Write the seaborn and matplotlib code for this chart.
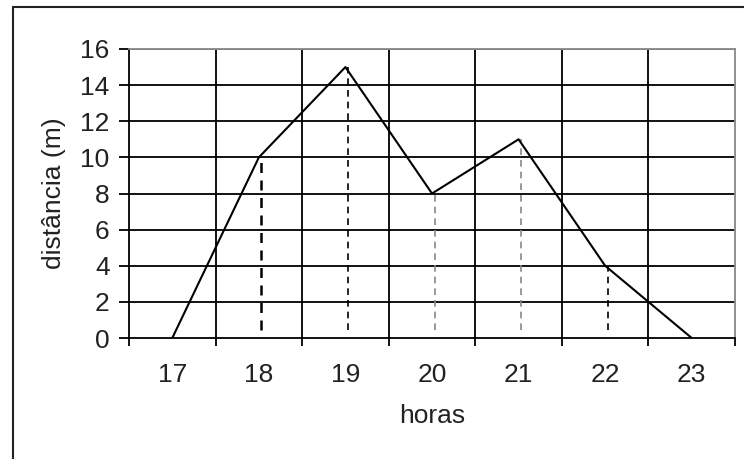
import matplotlib
matplotlib.use("Agg")
import matplotlib.pyplot as plt
import matplotlib.patches as mpatches
import seaborn as sns
import pandas as pd
import numpy as np

horas = [17, 18, 19, 20, 21, 22, 23]
distancia = [0, 10, 15, 8, 11, 4, 0]
y_ticks = [0, 2, 4, 6, 8, 10, 12, 14, 16]
dashed_horas = [18, 19, 20, 21, 22]
dashed_vals = [10, 15, 8, 11, 4]

sns.set_theme(style="white")
plt.rcParams['font.family'] = ['Liberation Sans', 'DejaVu Sans']

df = pd.DataFrame({"horas": horas, "distancia": distancia})

fig = plt.figure(figsize=(7.44, 4.59), dpi=100)
ax = fig.add_axes([129/744, 1-338/459, (735-129)/744, (338-49)/459])

sns.lineplot(data=df, x="horas", y="distancia", color="black", linewidth=1.5, ax=ax)

dcolors = ["black", "black", "#888888", "#888888", "black"]
dwidths = [1.8, 1.2, 1.2, 1.2, 1.2]
for xh, yv, c, w in zip(dashed_horas, dashed_vals, dcolors, dwidths):
    ax.vlines(xh + 0.03, 0.45, yv, colors=c, linestyles=(0, (4, 3)), linewidth=w, zorder=1)

ax.set_xlim(min(horas) - 0.5, max(horas) + 0.5)
ax.set_ylim(0, 16)
ax.set_xticks(horas)
ax.set_xticklabels([str(h) for h in horas])
ax.set_xticks(np.arange(min(horas) - 0.5, max(horas) + 1, 1.0), minor=True)
ax.set_yticks(y_ticks)

ax.grid(False)
for v in np.arange(min(horas) + 0.5, max(horas) + 0.5, 1.0):
    ax.axvline(v, color="black", linewidth=1.3, zorder=0)
for t in y_ticks[1:-1]:
    ax.axhline(t, color="black", linewidth=1.3, zorder=0)
ax.axhline(16, color="#555555", linewidth=1.3, zorder=0)

fs = 19
ax.tick_params(axis="x", which="major", length=0, pad=18, labelsize=fs, colors="#222222")
ax.tick_params(axis="x", which="minor", length=6, width=1.3, color="black", direction="out", bottom=True)
ax.tick_params(axis="y", which="major", length=7, width=1.3, color="black", direction="out", left=True, pad=7, labelsize=fs, labelcolor="#222222")

for s in ["left", "bottom"]:
    ax.spines[s].set_color("black")
    ax.spines[s].set_linewidth(1.3)
for s in ["top", "right"]:
    ax.spines[s].set_color("#888888")
    ax.spines[s].set_linewidth(1.3)

ax.set_xlabel("horas", fontsize=fs, color="#222222", labelpad=12)
ax.set_ylabel("distância (m)", fontsize=fs, color="#222222", labelpad=10)

frame = mpatches.Rectangle((13/744, -0.2), 1.2, 1.2 - 7/459, transform=fig.transFigure,
                           fill=False, edgecolor="#222222", linewidth=1.5, clip_on=False)
fig.add_artist(frame)

fig.savefig("out.png", dpi=100)
